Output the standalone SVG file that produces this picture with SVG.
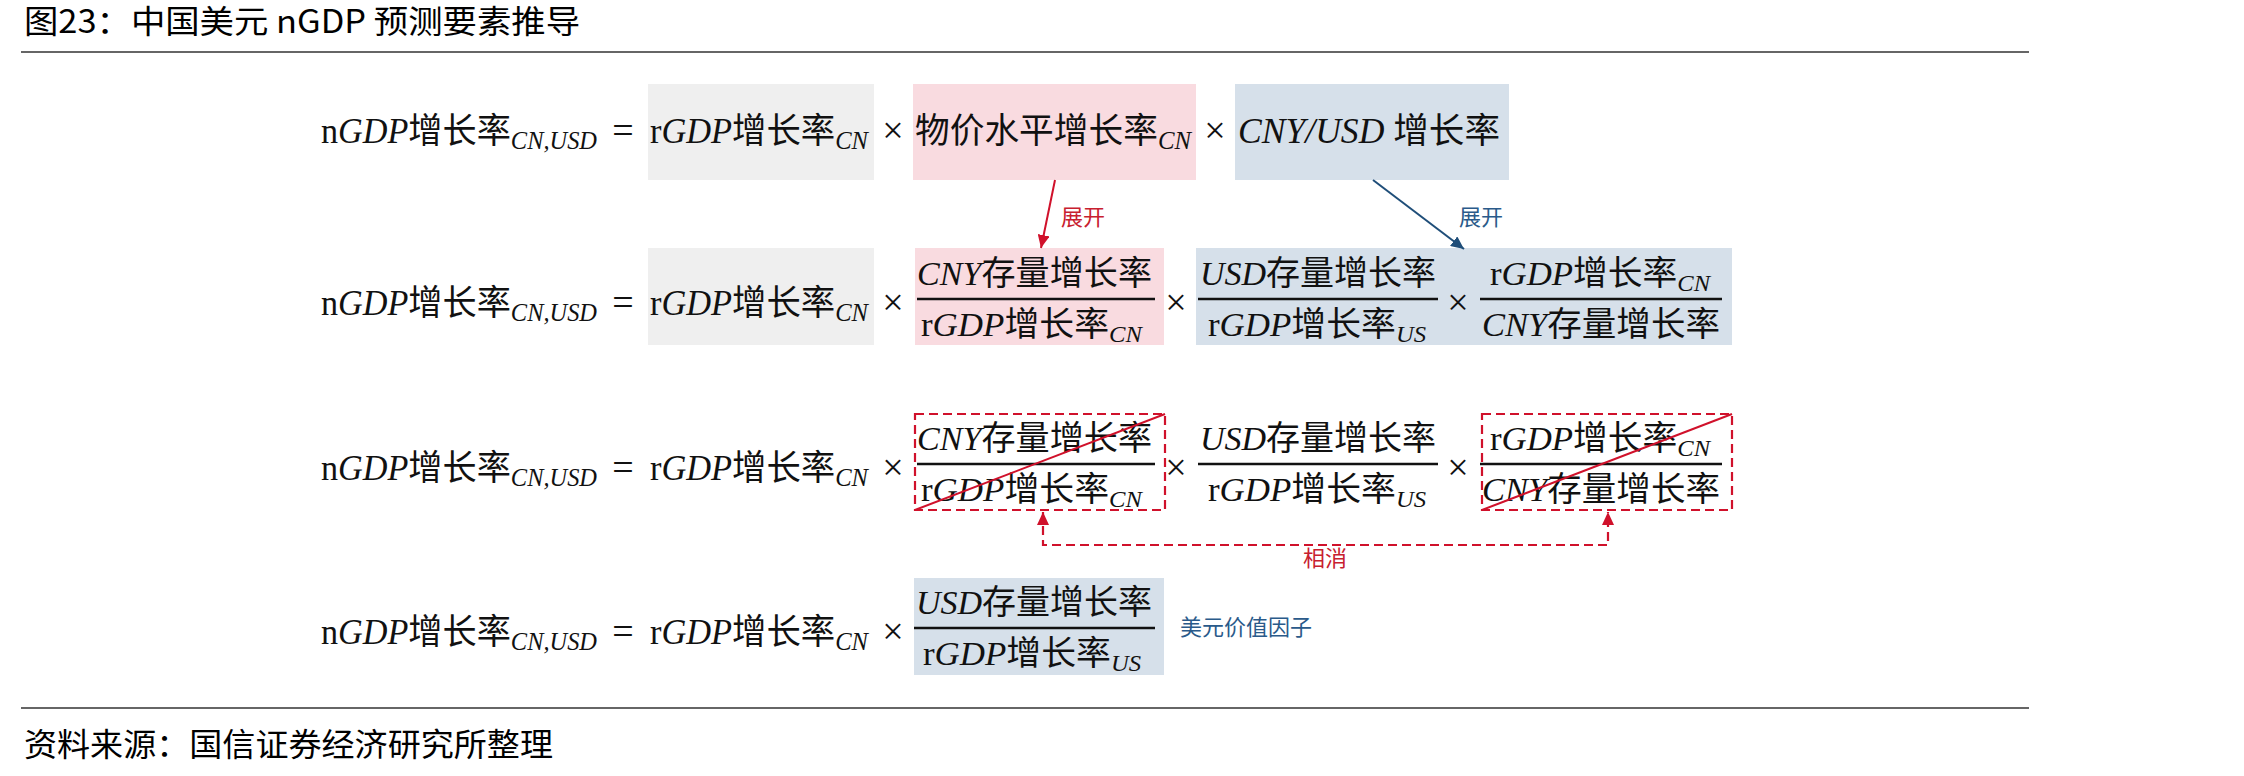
<svg xmlns="http://www.w3.org/2000/svg" width="2244" height="776" viewBox="0 0 2244 776">
<defs>
<style>
text { fill:#111; }
.m { font-family:"Liberation Serif","Noto Sans CJK SC",serif; font-size:35px; }
.f { font-family:"Liberation Serif","Noto Sans CJK SC",serif; font-size:34px; }
.i { font-style:italic; }
.cj { font-family:"Noto Sans CJK SC","Noto Sans CJK JP",sans-serif; font-style:normal; }
.s { font-style:italic; font-size:25px; }
.fs { font-style:italic; font-size:24px; }
.op { font-family:"Liberation Serif",serif; font-size:38px; text-anchor:middle; }
.hd { font-family:"Noto Sans CJK SC",sans-serif; font-size:32px; fill:#000; }
.lb { font-family:"Noto Sans CJK SC",sans-serif; font-size:22px; }
.red { fill:#c8202f; }
.blu { fill:#2a5a8a; }
.gray { fill:#efefef; }
.pink { fill:#f9dbe0; }
.blue { fill:#d6e0ea; }
.bar { stroke:#111; stroke-width:2.6; }
.dbox { fill:none; stroke:#d0112b; stroke-width:2.2; stroke-dasharray:9 5; }
.diag { stroke:#d0112b; stroke-width:2; }
.rule { stroke:#333; stroke-width:1.5; }
</style>
<marker id="ahR" markerUnits="userSpaceOnUse" markerWidth="14" markerHeight="12" refX="13" refY="6" orient="auto-start-reverse">
<path d="M0,0 L13,6 L0,12 z" fill="#d0112b"/>
</marker>
<marker id="ahB" markerUnits="userSpaceOnUse" markerWidth="14" markerHeight="12" refX="13" refY="6" orient="auto-start-reverse">
<path d="M0,0 L13,6 L0,12 z" fill="#1f4e79"/>
</marker>
</defs>
<rect width="2244" height="776" fill="#fff"/>

<g id="header">
<text class="hd" x="24" y="33" textLength="556" lengthAdjust="spacingAndGlyphs">图23：中国美元 nGDP 预测要素推导</text>
<line class="rule" x1="21" y1="52" x2="2029" y2="52"/>
</g>

<g id="row1">
<rect class="gray" x="648" y="84" width="226" height="96"/>
<rect class="pink" x="913" y="84" width="283" height="96"/>
<rect class="blue" x="1235" y="84" width="274" height="96"/>
<text class="m" x="321" y="143" textLength="276" lengthAdjust="spacingAndGlyphs">n<tspan class="i">GDP</tspan><tspan class="cj">增长率</tspan><tspan class="s" dy="6">CN,USD</tspan></text>
<text class="op" x="623" y="143">=</text>
<text class="m" x="650" y="143" textLength="218" lengthAdjust="spacingAndGlyphs">r<tspan class="i">GDP</tspan><tspan class="cj">增长率</tspan><tspan class="s" dy="6">CN</tspan></text>
<text class="op" x="893" y="143">×</text>
<text class="m" x="915" y="143" textLength="276" lengthAdjust="spacingAndGlyphs"><tspan class="cj">物价水平增长率</tspan><tspan class="s" dy="6">CN</tspan></text>
<text class="op" x="1215" y="143">×</text>
<text class="m" x="1238" y="143" textLength="262" lengthAdjust="spacingAndGlyphs"><tspan class="i">CNY/USD </tspan><tspan class="cj">增长率</tspan></text>
</g>

<g id="row2">
<rect class="gray" x="648" y="248" width="226" height="97"/>
<rect class="pink" x="915" y="248" width="249" height="97"/>
<rect class="blue" x="1196" y="248" width="536" height="97"/>
<text class="m" x="321" y="315" textLength="276" lengthAdjust="spacingAndGlyphs">n<tspan class="i">GDP</tspan><tspan class="cj">增长率</tspan><tspan class="s" dy="6">CN,USD</tspan></text>
<text class="op" x="623" y="315">=</text>
<text class="m" x="650" y="315" textLength="218" lengthAdjust="spacingAndGlyphs">r<tspan class="i">GDP</tspan><tspan class="cj">增长率</tspan><tspan class="s" dy="6">CN</tspan></text>
<text class="op" x="893" y="315">×</text>
<text class="f" x="917" y="285" textLength="235" lengthAdjust="spacingAndGlyphs"><tspan class="i">CNY</tspan><tspan class="cj">存量增长率</tspan></text>
<line class="bar" x1="917" y1="299" x2="1155" y2="299"/>
<text class="f" x="921" y="336" textLength="221" lengthAdjust="spacingAndGlyphs">r<tspan class="i">GDP</tspan><tspan class="cj">增长率</tspan><tspan class="fs" dy="6">CN</tspan></text>
<text class="op" x="1176" y="315">×</text>
<text class="f" x="1200" y="285" textLength="236" lengthAdjust="spacingAndGlyphs"><tspan class="i">USD</tspan><tspan class="cj">存量增长率</tspan></text>
<line class="bar" x1="1198" y1="299" x2="1438" y2="299"/>
<text class="f" x="1208" y="336" textLength="218" lengthAdjust="spacingAndGlyphs">r<tspan class="i">GDP</tspan><tspan class="cj">增长率</tspan><tspan class="fs" dy="6">US</tspan></text>
<text class="op" x="1458" y="315">×</text>
<text class="f" x="1490" y="285" textLength="220" lengthAdjust="spacingAndGlyphs">r<tspan class="i">GDP</tspan><tspan class="cj">增长率</tspan><tspan class="fs" dy="6">CN</tspan></text>
<line class="bar" x1="1480" y1="299" x2="1722" y2="299"/>
<text class="f" x="1482" y="336" textLength="238" lengthAdjust="spacingAndGlyphs"><tspan class="i">CNY</tspan><tspan class="cj">存量增长率</tspan></text>
</g>

<g id="row3">
<text class="m" x="321" y="480" textLength="276" lengthAdjust="spacingAndGlyphs">n<tspan class="i">GDP</tspan><tspan class="cj">增长率</tspan><tspan class="s" dy="6">CN,USD</tspan></text>
<text class="op" x="623" y="480">=</text>
<text class="m" x="650" y="480" textLength="218" lengthAdjust="spacingAndGlyphs">r<tspan class="i">GDP</tspan><tspan class="cj">增长率</tspan><tspan class="s" dy="6">CN</tspan></text>
<text class="op" x="893" y="480">×</text>
<g id="cancel1">
<rect class="dbox" x="915" y="414" width="250" height="96"/>
<text class="f" x="917" y="450" textLength="235" lengthAdjust="spacingAndGlyphs"><tspan class="i">CNY</tspan><tspan class="cj">存量增长率</tspan></text>
<line class="bar" x1="917" y1="464" x2="1155" y2="464"/>
<text class="f" x="921" y="501" textLength="221" lengthAdjust="spacingAndGlyphs">r<tspan class="i">GDP</tspan><tspan class="cj">增长率</tspan><tspan class="fs" dy="6">CN</tspan></text>
<line class="diag" x1="915" y1="510" x2="1165" y2="414"/>
</g>
<text class="op" x="1176" y="480">×</text>
<text class="f" x="1200" y="450" textLength="236" lengthAdjust="spacingAndGlyphs"><tspan class="i">USD</tspan><tspan class="cj">存量增长率</tspan></text>
<line class="bar" x1="1198" y1="464" x2="1438" y2="464"/>
<text class="f" x="1208" y="501" textLength="218" lengthAdjust="spacingAndGlyphs">r<tspan class="i">GDP</tspan><tspan class="cj">增长率</tspan><tspan class="fs" dy="6">US</tspan></text>
<text class="op" x="1458" y="480">×</text>
<g id="cancel2">
<rect class="dbox" x="1482" y="414" width="250" height="96"/>
<text class="f" x="1490" y="450" textLength="220" lengthAdjust="spacingAndGlyphs">r<tspan class="i">GDP</tspan><tspan class="cj">增长率</tspan><tspan class="fs" dy="6">CN</tspan></text>
<line class="bar" x1="1480" y1="464" x2="1722" y2="464"/>
<text class="f" x="1482" y="501" textLength="238" lengthAdjust="spacingAndGlyphs"><tspan class="i">CNY</tspan><tspan class="cj">存量增长率</tspan></text>
<line class="diag" x1="1482" y1="510" x2="1732" y2="414"/>
</g>
</g>

<g id="row4">
<rect class="blue" x="914" y="578" width="250" height="97"/>
<text class="m" x="321" y="644" textLength="276" lengthAdjust="spacingAndGlyphs">n<tspan class="i">GDP</tspan><tspan class="cj">增长率</tspan><tspan class="s" dy="6">CN,USD</tspan></text>
<text class="op" x="623" y="644">=</text>
<text class="m" x="650" y="644" textLength="218" lengthAdjust="spacingAndGlyphs">r<tspan class="i">GDP</tspan><tspan class="cj">增长率</tspan><tspan class="s" dy="6">CN</tspan></text>
<text class="op" x="893" y="644">×</text>
<text class="f" x="916" y="614" textLength="236" lengthAdjust="spacingAndGlyphs"><tspan class="i">USD</tspan><tspan class="cj">存量增长率</tspan></text>
<line class="bar" x1="914" y1="628" x2="1155" y2="628"/>
<text class="f" x="923" y="665" textLength="218" lengthAdjust="spacingAndGlyphs">r<tspan class="i">GDP</tspan><tspan class="cj">增长率</tspan><tspan class="fs" dy="6">US</tspan></text>
<text class="lb blu" x="1180" y="635">美元价值因子</text>
</g>

<g id="connectors">
<line x1="1055" y1="180" x2="1041" y2="248" stroke="#d0112b" stroke-width="2" marker-end="url(#ahR)"/>
<text class="lb red" x="1061" y="225">展开</text>
<line x1="1373" y1="180" x2="1464" y2="249" stroke="#1f4e79" stroke-width="2" marker-end="url(#ahB)"/>
<text class="lb blu" x="1459" y="225">展开</text>
<path d="M1043,512 L1043,545 L1608,545 L1608,512" fill="none" stroke="#d0112b" stroke-width="2.2" stroke-dasharray="9 5" marker-start="url(#ahR)" marker-end="url(#ahR)"/>
<text class="lb red" x="1303" y="566">相消</text>
</g>

<g id="footer">
<line class="rule" x1="21" y1="708" x2="2029" y2="708"/>
<text class="hd" x="24" y="756" textLength="529" lengthAdjust="spacingAndGlyphs">资料来源：国信证券经济研究所整理</text>
</g>
</svg>
